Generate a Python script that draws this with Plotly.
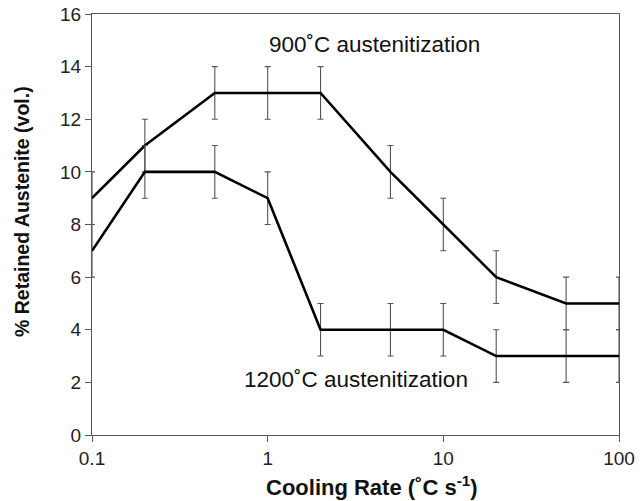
import plotly.graph_objects as go

cooling_rate = [0.1, 0.2, 0.5, 1, 2, 5, 10, 20, 50, 100]
ra_900 = [9, 11, 13, 13, 13, 10, 8, 6, 5, 5]
ra_1200 = [7, 10, 10, 9, 4, 4, 4, 3, 3, 3]
err_900 = [1, 1, 1, 1, 1, 1, 1, 1, 1, 1]
err_1200 = [1, 1, 1, 1, 1, 1, 1, 1, 1, 1]

FONT = "Liberation Sans, Arial, sans-serif"
AXIS_GRAY = "#595959"

# plot-area geometry in pixels, used to place the free text labels
L, R, T, B = 92, 619, 14, 435
W, H = R - L, B - T


def px(x, y):
    return (x - L) / W, (B - y) / H


fig = go.Figure()
for y, e in [(ra_900, err_900), (ra_1200, err_1200)]:
    fig.add_trace(go.Scatter(
        x=cooling_rate, y=y, mode="lines",
        line=dict(color="black", width=2.6),
        error_y=dict(type="data", array=e, visible=True,
                     color="#555555", thickness=1.1, width=3),
        showlegend=False, cliponaxis=False,
    ))

axis_style = dict(showgrid=False, zeroline=False, automargin=False,
                  showline=True, linecolor=AXIS_GRAY, linewidth=1.2, mirror=True,
                  ticks="outside", ticklen=6, tickcolor=AXIS_GRAY,
                  tickfont=dict(size=19))

fig.update_layout(
    width=644, height=501,
    margin=dict(l=L, r=644 - R, t=T, b=501 - B),
    paper_bgcolor="white", plot_bgcolor="white",
    font=dict(family=FONT, size=19, color="#222"),
    xaxis=dict(type="log", range=[-1, 2], tickvals=[0.1, 1, 10, 100],
               ticktext=["0.1", "1", "10", "100"], **axis_style),
    yaxis=dict(range=[0, 16], tickvals=list(range(0, 17, 2)), **axis_style),
)

labels = [
    ((374, 44), "900˚C austenitization", 22.5, 0),
    ((356, 379), "1200˚C austenitization", 22.5, 0),
    ((372, 486), "<b>Cooling Rate (˚C s<sup>-1</sup>)</b>", 22, 0),
    ((22, 212), "<b>% Retained Austenite (vol.)</b>", 19.5, -90),
]
for (x, y), text, size, angle in labels:
    ax, ay = px(x, y)
    fig.add_annotation(xref="paper", yref="paper", x=ax, y=ay,
                       xanchor="center", yanchor="middle",
                       text=text, showarrow=False, textangle=angle,
                       font=dict(size=size, color="#111"))

fig.write_html("out.html")
